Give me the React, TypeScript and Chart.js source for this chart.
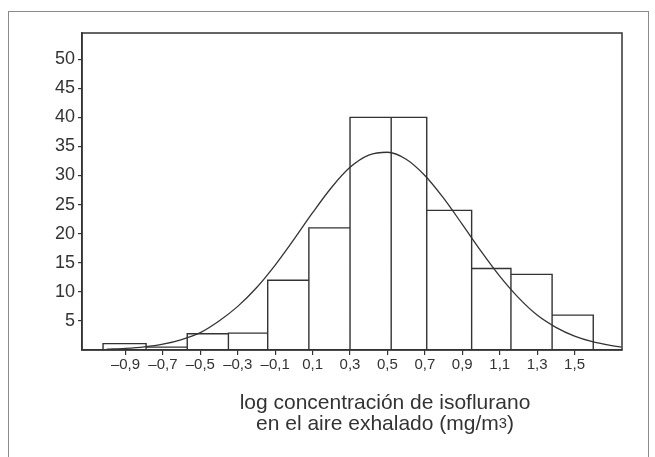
import React, { useEffect, useRef } from "react";
import { Chart, registerables } from "chart.js";

Chart.register(...registerables);

// Histogram bins (edges in log units) and their heights
const binEdges = [-1.02, -0.79, -0.57, -0.35, -0.14, 0.08, 0.3, 0.52, 0.71, 0.95, 1.16, 1.38, 1.6];
const binCounts = [1.1, 0.5, 2.8, 2.9, 12, 21, 40, 40, 24, 14, 13, 6];

// Fitted normal curve
const curveX = [-1.0, -0.9, -0.8, -0.7, -0.6, -0.5, -0.4, -0.3, -0.2, -0.1, 0.0, 0.1, 0.2, 0.3, 0.4, 0.5, 0.6, 0.7, 0.8, 0.9, 1.0, 1.1, 1.2, 1.3, 1.4, 1.5, 1.6, 1.7, 1.75];
const curveY = [0.13, 0.27, 0.53, 1.0, 1.8, 3.0, 5.0, 7.5, 10.7, 14.6, 19.0, 23.6, 27.9, 31.4, 33.5, 34.0, 32.8, 30.0, 26.1, 21.6, 17.0, 12.7, 9.0, 6.0, 3.9, 2.4, 1.4, 0.75, 0.5];

// Axis ticks
const xTickValues = [-0.9, -0.7, -0.5, -0.3, -0.1, 0.1, 0.3, 0.5, 0.7, 0.9, 1.1, 1.3, 1.5];
const xTickLabels = ["–0,9", "–0,7", "–0,5", "–0,3", "–0,1", "0,1", "0,3", "0,5", "0,7", "0,9", "1,1", "1,3", "1,5"];
const yTickValues = [5, 10, 15, 20, 25, 30, 35, 40, 45, 50];

const X_MIN = -1.1325;
const X_MAX = 1.7536;
const Y_MAX = 54.5;

const INK = "#333333";
const FONT = "'Liberation Sans', Arial, Helvetica, sans-serif";

const boxPlugin = {
  id: "plotBox",
  afterDatasetsDraw(chart: any) {
    const { ctx, chartArea } = chart;
    ctx.save();
    ctx.strokeStyle = INK;
    ctx.lineWidth = 1.5;
    ctx.strokeRect(chartArea.left, chartArea.top, chartArea.right - chartArea.left, chartArea.bottom - chartArea.top);
    ctx.restore();
  },
};

export default function App() {
  const canvasRef = useRef<HTMLCanvasElement | null>(null);

  useEffect(() => {
    if (!canvasRef.current) return;
    const outline: { x: number; y: number }[] = [];
    binCounts.forEach((c, i) => {
      outline.push(
        { x: binEdges[i], y: 0 },
        { x: binEdges[i], y: c },
        { x: binEdges[i + 1], y: c },
        { x: binEdges[i + 1], y: 0 }
      );
    });
    const curve = curveX.map((x, i) => ({ x, y: curveY[i] }));

    const chart = new Chart(canvasRef.current, {
      type: "scatter",
      data: {
        datasets: [
          {
            data: outline,
            showLine: true,
            borderColor: INK,
            borderWidth: 1.4,
            pointRadius: 0,
            tension: 0,
            fill: false,
          },
          {
            data: curve,
            showLine: true,
            borderColor: INK,
            borderWidth: 1.3,
            pointRadius: 0,
            cubicInterpolationMode: "monotone",
            fill: false,
          },
        ],
      },
      options: {
        responsive: false,
        animation: false,
        devicePixelRatio: 1,
        layout: { padding: { top: 33, right: 33, left: 0, bottom: 0 } },
        plugins: { legend: { display: false }, tooltip: { enabled: false } },
        scales: {
          x: {
            type: "linear",
            min: X_MIN,
            max: X_MAX,
            afterBuildTicks: (scale: any) => {
              scale.ticks = xTickValues.map((v) => ({ value: v }));
            },
            afterFit: (scale: any) => {
              scale.height = 107;
            },
            ticks: {
              autoSkip: false,
              maxRotation: 0,
              padding: 1,
              color: INK,
              font: { family: FONT, size: 15 },
              callback: (_v: any, i: number) => xTickLabels[i],
            },
            grid: { drawOnChartArea: false, drawTicks: true, tickLength: 5, color: INK, lineWidth: 1.2 },
            border: { display: true, color: INK, width: 1.5 },
          },
          y: {
            type: "linear",
            min: 0,
            max: Y_MAX,
            afterBuildTicks: (scale: any) => {
              scale.ticks = yTickValues.map((v) => ({ value: v }));
            },
            afterFit: (scale: any) => {
              scale.width = 82;
            },
            ticks: {
              padding: 3,
              color: INK,
              font: { family: FONT, size: 18 },
            },
            grid: { drawOnChartArea: false, drawTicks: true, tickLength: 4, color: INK, lineWidth: 1.2 },
            border: { display: true, color: INK, width: 1.5 },
          },
        },
      },
      plugins: [boxPlugin],
    });
    return () => chart.destroy();
  }, []);

  return (
    <div
      style={{
        position: "fixed",
        left: 0,
        top: 0,
        width: 655,
        height: 457,
        overflow: "hidden",
        background: "#ffffff",
      }}
    >
      <div
        style={{
          position: "absolute",
          left: 8,
          top: 11,
          width: 641,
          height: 520,
          boxSizing: "border-box",
          border: "1px solid #8a8a8a",
        }}
      />
      <canvas
        ref={canvasRef}
        width={655}
        height={457}
        style={{ position: "absolute", left: 0, top: 0, width: 655, height: 457 }}
      />
      <div
        style={{
          position: "absolute",
          left: 185,
          top: 391,
          width: 400,
          textAlign: "center",
          fontFamily: FONT,
          fontSize: 21,
          lineHeight: "21px",
          color: INK,
          whiteSpace: "nowrap",
        }}
      >
        <div>log concentración de isoflurano</div>
        <div>
          en el aire exhalado (mg/m
          <span style={{ fontSize: "0.7em", verticalAlign: "0.15em" }}>3</span>)
        </div>
      </div>
    </div>
  );
}
